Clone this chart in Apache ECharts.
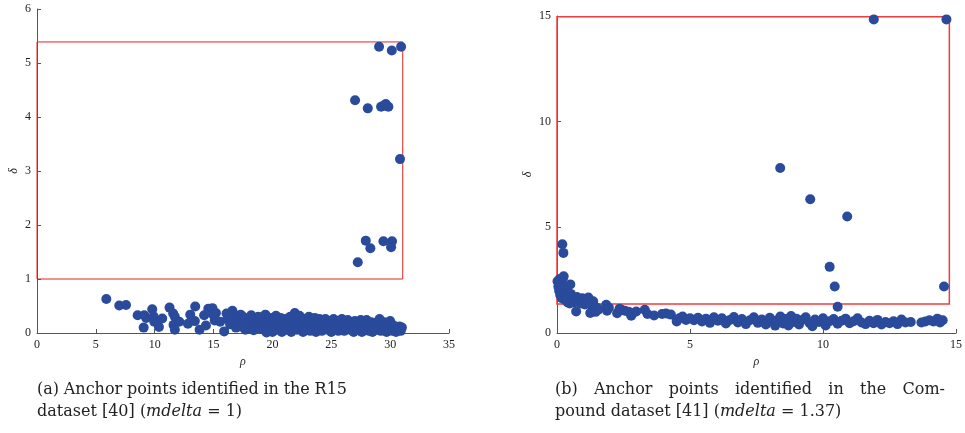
<!DOCTYPE html>
<html>
<head>
<meta charset="utf-8">
<script src="https://cdn.jsdelivr.net/npm/echarts@6/dist/echarts.min.js"></script>
<style>
html,body{margin:0;padding:0;background:#fff;}
#main{width:965px;height:433px;}
</style>
</head>
<body>
<div id="main"></div>
<script>
// (a) R15: rho / delta pairs
let r15Anchors = [
    [29.06,5.30],[30.14,5.23],[30.93,5.30],
    [27.02,4.31],[28.10,4.16],[29.23,4.19],[29.45,4.21],[29.63,4.24],[29.85,4.19],
    [30.84,3.22],
    [27.93,1.71],[28.32,1.57],[29.43,1.70],[30.16,1.70],[30.08,1.59],[27.25,1.31]
];
let r15Points = [
    [5.89,0.63],[6.99,0.51],[7.56,0.52],[8.55,0.33],[9.11,0.33],[9.28,0.28],[9.06,0.10],
    [9.79,0.44],[9.90,0.31],[9.96,0.21],[10.36,0.11],[10.64,0.27],[11.26,0.47],[11.57,0.36],
    [11.71,0.30],[11.60,0.15],[11.71,0.06],[12.08,0.21],[12.82,0.17],[13.02,0.34],[13.44,0.49],
    [13.41,0.22],[13.81,0.06],[14.20,0.33],[14.35,0.14],[14.55,0.45],[14.90,0.46],[15.00,0.33],
    [15.20,0.37],[15.10,0.23],[15.56,0.21],[15.90,0.03],[16.10,0.36],[16.60,0.41],[16.70,0.25],
    [16.20,0.26],[16.40,0.16],[16.50,0.32],[16.80,0.20],[16.90,0.10],[17.30,0.34],[17.70,0.06],
    [17.1,0.22],[17.3,0.12],[17.5,0.30],[17.6,0.18],[17.8,0.08],[17.9,0.25],[18.1,0.15],
    [18.2,0.33],[18.4,0.05],[18.5,0.22],[18.6,0.12],[18.8,0.30],[18.9,0.18],[19.0,0.08],
    [19.1,0.26],[19.3,0.14],[19.4,0.34],[19.5,0.01],[19.6,0.20],[19.7,0.10],[19.8,0.28],
    [19.9,0.16],[20.0,0.02],[20.1,0.24],[20.2,0.12],[20.3,0.32],[20.4,0.06],[20.5,0.20],
    [20.6,0.14],[20.7,0.28],[20.8,0.02],[20.9,0.18],[21.0,0.10],[21.1,0.26],[21.2,0.06],
    [21.3,0.22],[21.4,0.14],[21.5,0.30],[21.6,0.02],[21.7,0.18],[21.8,0.10],[21.9,0.37],
    [22.0,0.24],[22.1,0.06],[22.2,0.16],[22.3,0.32],[22.4,0.10],[22.5,0.22],[22.6,0.02],
    [22.7,0.14],[22.8,0.26],[22.9,0.08],[23.0,0.20],[23.1,0.30],[23.2,0.04],[23.3,0.14],
    [23.4,0.22],[23.5,0.10],[23.6,0.28],[23.7,0.02],[23.8,0.18],[23.9,0.08],[24.0,0.26],
    [24.1,0.14],[24.2,0.04],[24.3,0.20],[24.4,0.10],[24.5,0.26],[24.6,0.16],[24.7,0.06],
    [24.8,0.22],[24.9,0.12],[25.0,0.02],[25.1,0.18],[25.2,0.26],[25.3,0.08],[25.4,0.14],
    [25.5,0.22],[25.6,0.04],[25.7,0.18],[25.8,0.10],[25.9,0.26],[26.0,0.14],[26.1,0.04],
    [26.2,0.20],[26.3,0.10],[26.4,0.24],[26.5,0.16],[26.6,0.06],[26.7,0.20],[26.8,0.12],
    [26.9,0.02],[27.0,0.22],[27.1,0.14],[27.2,0.06],[27.3,0.18],[27.4,0.10],[27.5,0.24],
    [27.6,0.02],[27.7,0.14],[27.8,0.20],[27.9,0.08],[28.0,0.24],[28.1,0.16],[28.2,0.04],
    [28.3,0.12],[28.4,0.20],[28.5,0.02],[28.6,0.10],[28.7,0.16],[28.8,0.06],[28.9,0.20],
    [29.0,0.12],[29.1,0.26],[29.2,0.04],[29.3,0.16],[29.4,0.08],[29.5,0.20],[29.6,0.12],
    [29.7,0.02],[29.8,0.16],[29.9,0.08],[30.0,0.22],[30.1,0.12],[30.2,0.04],[30.3,0.14],
    [30.4,0.08],[30.5,0.02],[30.6,0.10],[30.7,0.06],[30.8,0.12],[30.9,0.04],[31.0,0.10]
];
let r15Box = [0, 1, 31.07, 5.39];   // rho0, delta0, rho1, delta1

// (b) Compound
let compAnchors = [
    [11.91,14.84],[14.64,14.84],[8.39,7.81],[9.52,6.33],[10.91,5.51],
    [10.25,3.13],[10.44,2.20],[14.55,2.20],[0.20,4.20],[0.24,3.79]
];
let compPoints = [
    [0.02,2.45],[0.05,2.20],[0.08,2.00],[0.10,2.55],[0.12,1.80],[0.15,2.35],[0.18,1.65],
    [0.20,2.10],[0.22,2.60],[0.25,2.68],[0.27,1.90],[0.30,2.20],[0.32,1.55],[0.35,1.75],
    [0.38,2.00],[0.40,1.45],[0.45,1.65],[0.48,1.40],[0.50,2.30],[0.52,1.85],[0.55,1.50],
    [0.60,1.55],[0.65,1.45],[0.72,1.02],[0.75,1.70],[0.80,1.50],[0.85,1.60],[0.90,1.40],
    [0.95,1.65],[1.00,1.55],[1.05,1.35],[1.10,1.50],[1.18,1.68],[1.22,1.45],[1.25,0.95],
    [1.30,1.30],[1.36,1.50],[1.40,1.15],[1.45,1.00],[1.50,1.20],[1.55,1.10],[1.85,1.34],
    [1.88,1.05],[1.95,1.20],[2.26,0.94],[2.35,1.15],[2.42,1.10],[2.55,1.05],[2.70,1.00],
    [2.79,0.82],[2.85,0.95],[2.98,1.02],[3.30,1.10],[3.40,0.90],[3.65,0.83],[3.95,0.90],
    [4.10,0.92],[4.28,0.87],[4.50,0.55],[4.60,0.70],[4.72,0.78],[4.85,0.62],[5.00,0.70],
    [5.15,0.60],[5.30,0.72],[5.45,0.55],[5.60,0.68],[5.75,0.48],[5.90,0.74],[6.05,0.58],
    [6.20,0.70],[6.35,0.45],[6.50,0.62],[6.65,0.76],[6.80,0.50],[6.95,0.66],[7.10,0.42],
    [7.25,0.60],[7.40,0.74],[7.55,0.48],[7.70,0.64],[7.85,0.40],[8.00,0.72],[8.10,0.55],
    [8.20,0.35],[8.30,0.62],[8.40,0.78],[8.50,0.45],[8.60,0.66],[8.70,0.36],[8.80,0.80],
    [8.90,0.52],[9.00,0.68],[9.10,0.40],[9.20,0.60],[9.35,0.74],[9.50,0.46],[9.60,0.32],
    [9.70,0.64],[9.85,0.52],[10.00,0.70],[10.10,0.36],[10.25,0.56],[10.40,0.66],[10.55,0.44],
    [10.55,1.24],[10.70,0.58],[10.85,0.68],[11.00,0.46],[11.15,0.56],[11.30,0.70],[11.45,0.50],
    [11.60,0.42],[11.75,0.58],[11.90,0.46],[12.05,0.62],[12.20,0.40],[12.35,0.52],[12.50,0.46],
    [12.65,0.56],[12.80,0.42],[12.95,0.64],[13.10,0.50],[13.30,0.52],[13.70,0.50],[13.85,0.55],
    [14.00,0.60],[14.15,0.55],[14.30,0.68],[14.40,0.50],[14.50,0.60]
];
let compBox = [0, 1.37, 14.75, 14.97];

let dotColor = '#2a4a9b';
let serif = '"Liberation Serif", "DejaVu Serif", serif';
let capFont = '"DejaVu Serif", serif';

function axisCommon(min, max, step) {
    return {
        type: 'value', min: min, max: max, interval: step,
        axisLine: {lineStyle: {color: '#555', width: 1}},
        axisTick: {inside: true, length: 4, lineStyle: {color: '#555'}},
        axisLabel: {fontFamily: serif, fontSize: 12, color: '#222', margin: 6},
        splitLine: {show: false}
    };
}

function boxArea(b, color, w) {
    return {
        silent: true,
        itemStyle: {color: 'rgba(0,0,0,0)', borderColor: color, borderWidth: w},
        data: [[{coord: [b[0], b[1]]}, {coord: [b[2], b[3]]}]]
    };
}

let nameStyle = {fontFamily: serif, fontStyle: 'italic', fontSize: 12, color: '#222'};

let xa0 = axisCommon(0, 35, 5), ya0 = axisCommon(0, 6, 1);
let xa1 = axisCommon(0, 15, 5), ya1 = axisCommon(0, 15, 5);
xa0.gridIndex = 0; ya0.gridIndex = 0; xa1.gridIndex = 1; ya1.gridIndex = 1;
[xa0, xa1].forEach(a => { a.name = 'ρ'; a.nameLocation = 'middle'; a.nameGap = 21; a.nameTextStyle = nameStyle; });
[ya0, ya1].forEach(a => { a.name = 'δ'; a.nameLocation = 'middle'; a.nameRotate = 90; a.nameTextStyle = nameStyle; });
ya0.nameGap = 17; ya1.nameGap = 23;

// caption helper: justify words across a width
let measure = document.createElement('canvas').getContext('2d');
function justified(words, x, y, width, size) {
    measure.font = size + 'px ' + capFont;
    let total = 0;
    words.forEach(w => total += measure.measureText(w).width);
    let gap = (width - total) / (words.length - 1);
    let out = [], cx = x;
    words.forEach(w => {
        out.push({type: 'text', x: cx, y: y, style: {text: w, font: size + 'px ' + capFont, fill: '#222', textVerticalAlign: 'middle'}});
        cx += measure.measureText(w).width + gap;
    });
    return out;
}
function secondLine(pre, val, x, y, size) {
    return {
        type: 'text', x: x, y: y,
        style: {
            text: '{n|' + pre + '}{i|mdelta}{n| = ' + val + ')}',
            textVerticalAlign: 'middle',
            rich: {
                n: {fontFamily: capFont, fontSize: size, fill: '#222'},
                i: {fontFamily: capFont, fontSize: size, fontStyle: 'italic', fill: '#222'}
            }
        }
    };
}

let capSize = 16;
let captions = []
    .concat(justified(['(a)', 'Anchor', 'points', 'identified', 'in', 'the', 'R15'], 37, 390, 310, capSize))
    .concat([secondLine('dataset [40] (', '1', 37, 412, capSize)])
    .concat(justified(['(b)', 'Anchor', 'points', 'identified', 'in', 'the', 'Com-'], 555, 390, 390, capSize))
    .concat([secondLine('pound dataset [41] (', '1.37', 555, 412, capSize)]);

let myChart = echarts.init(document.getElementById('main'));
let option = {
    animation: false,
    backgroundColor: '#fff',
    grid: [
        {left: 37, top: 9, width: 412, height: 324},
        {left: 557, top: 16, width: 403, height: 317}
    ],
    xAxis: [xa0, xa1],
    yAxis: [ya0, ya1],
    series: [{
        type: 'scatter', xAxisIndex: 0, yAxisIndex: 0,
        data: r15Points.concat(r15Anchors),
        symbolSize: 10,
        itemStyle: {color: dotColor, opacity: 1},
        markArea: boxArea(r15Box, '#e3241f', 1)
    }, {
        type: 'scatter', xAxisIndex: 1, yAxisIndex: 1,
        data: compPoints.concat(compAnchors),
        symbolSize: 10,
        itemStyle: {color: dotColor, opacity: 1},
        markArea: boxArea(compBox, '#ef3b3b', 1.5)
    }],
    graphic: captions
};
myChart.setOption(option);
</script>
</body>
</html>
